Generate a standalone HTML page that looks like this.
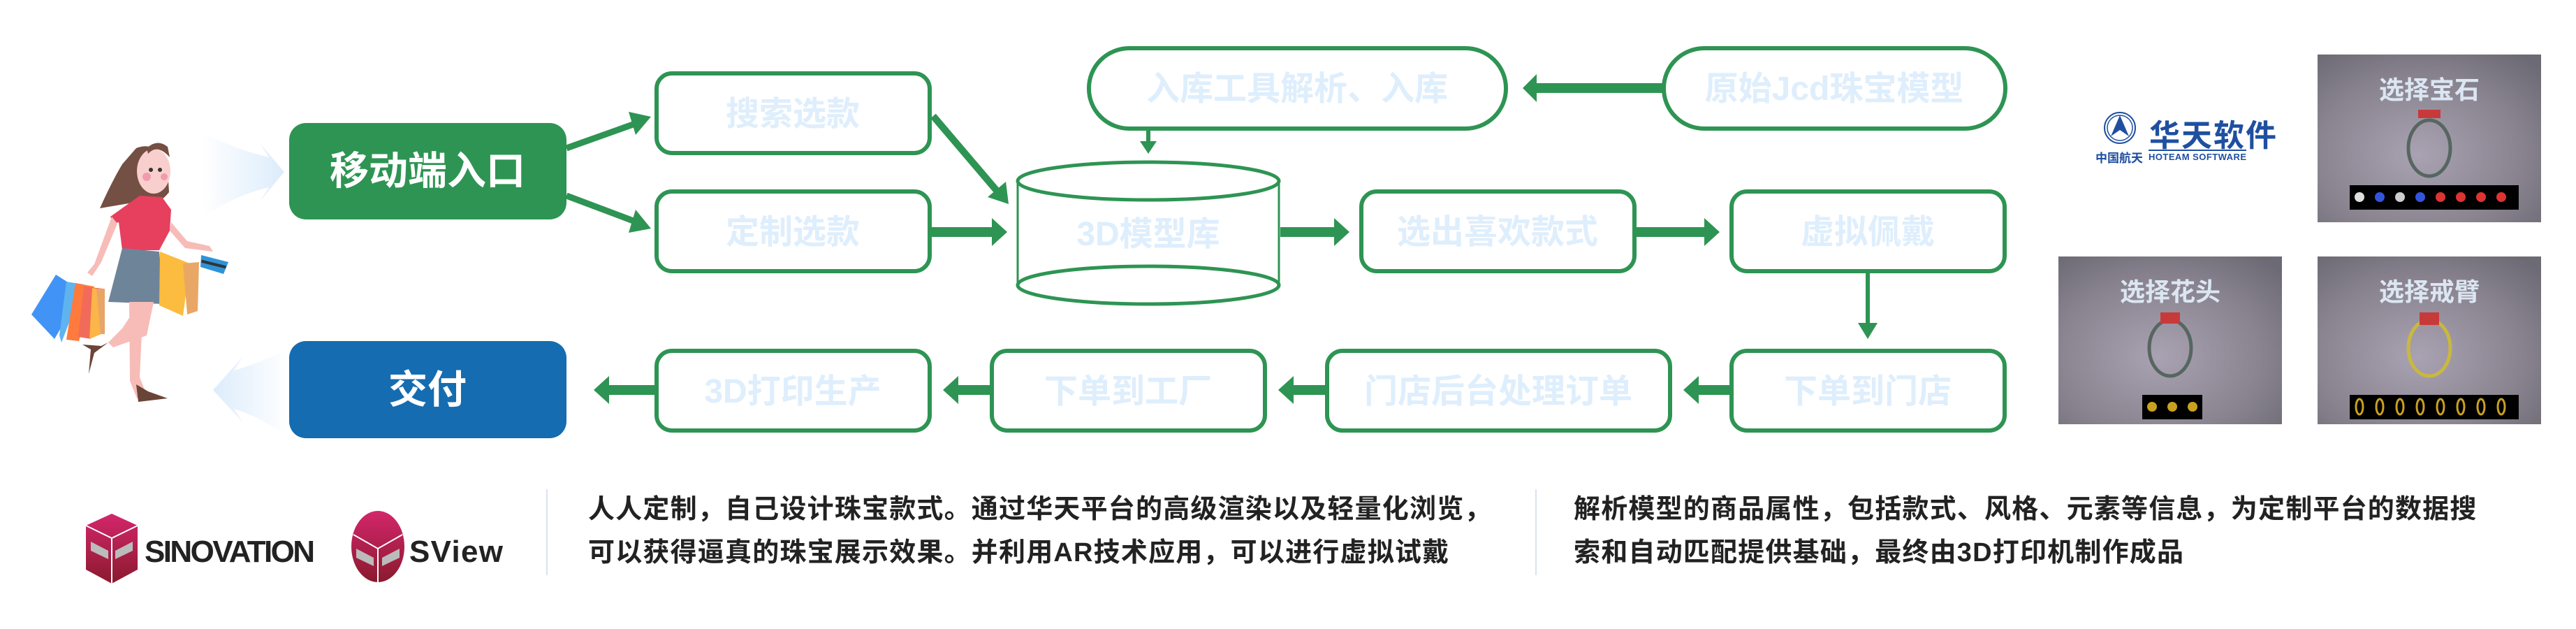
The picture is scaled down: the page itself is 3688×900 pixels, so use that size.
<!DOCTYPE html>
<html><head><meta charset="utf-8"><style>
html,body{margin:0;padding:0;background:#fff;}
body{width:3688px;height:900px;overflow:hidden;position:relative;font-family:"Liberation Sans","Noto Sans CJK SC",sans-serif;}
.t{font-family:"Liberation Sans","Noto Sans CJK SC",sans-serif;font-weight:bold;}
.desc{position:absolute;font-family:"Liberation Sans","Noto Sans CJK SC",sans-serif;font-size:38px;font-weight:bold;color:#222;line-height:62px;white-space:nowrap;letter-spacing:1.2px;}
</style></head><body>
<svg width="3688" height="900" viewBox="0 0 3688 900" xmlns="http://www.w3.org/2000/svg" style="position:absolute;left:0;top:0">
<defs>
<linearGradient id="gl" x1="0" x2="1" y1="0" y2="0"><stop offset="0" stop-color="#fff"/><stop offset="1" stop-color="#dcecfb"/></linearGradient>
<linearGradient id="gl2" x1="1" x2="0" y1="0" y2="0"><stop offset="0" stop-color="#fff"/><stop offset="1" stop-color="#dcecfb"/></linearGradient>
<radialGradient id="scr" cx="0.45" cy="0.6" r="0.75"><stop offset="0" stop-color="#a9a2b2"/><stop offset="0.6" stop-color="#8a8490"/><stop offset="1" stop-color="#6c6a74"/></radialGradient>
<linearGradient id="sino" x1="0" x2="0" y1="0" y2="1"><stop offset="0" stop-color="#d4266b"/><stop offset="1" stop-color="#8a1a2e"/></linearGradient>
</defs>

<path d="M290 190 Q340 215 385 225 L372 205 L407 246 L372 288 L385 268 Q340 278 290 310 Z" fill="url(#gl)"/>
<path d="M412 500 Q370 520 335 530 L348 510 L305 558 L348 605 L335 585 Q370 595 412 625 Z" fill="url(#gl2)"/>

<g>
<path d="M195 212 Q225 200 240 240 L242 275 Q230 290 228 282 L190 290 L143 298 Q160 260 175 235 Z" fill="#744f43"/>
<ellipse cx="220" cy="245" rx="24" ry="32" fill="#f8cfcc"/>
<circle cx="210" cy="253" r="6" fill="#f29bad"/><circle cx="235" cy="253" r="5" fill="#f29bad"/>
<circle cx="216" cy="243" r="3" fill="#333"/><circle cx="229" cy="243" r="3" fill="#333"/>
<path d="M212 220 Q225 205 243 225 L240 210 Q225 198 210 212 Z" fill="#744f43"/>
<path d="M200 280 L232 282 L245 300 L243 330 L228 358 L175 358 L170 318 L162 320 L158 310 Z" fill="#e73f5e"/>
<path d="M175 355 L228 360 L235 435 L155 432 Z" fill="#6e8599"/>
<path d="M185 432 L205 432 L200 540 L210 565 L196 570 L186 545 Z" fill="#f7bcb8"/>
<path d="M200 432 L220 432 L210 480 L162 497 L155 490 L175 470 Z" fill="#f7bcb8"/>
<path d="M155 490 L145 495 L118 493 L130 500 L127 535 L135 505 Z" fill="#6b4438"/>
<path d="M195 550 L198 575 L240 570 L212 560 Z" fill="#6b4438"/>
<path d="M160 310 L135 378 L125 390 L132 395 L145 375 L168 320 Z" fill="#f7bcb8"/>
<path d="M243 330 L265 355 L305 360 L300 352 L268 345 L245 318 Z" fill="#f7bcb8"/>
<path d="M80 393 L45 450 L78 485 L118 417 Z" fill="#4194f5"/>
<path d="M95 403 L120 407 L88 490 L85 480 Z" fill="#5fb4ef"/>
<path d="M108 405 L135 410 L113 488 L95 486 Z" fill="#ff7a3d"/>
<path d="M120 410 L148 413 L130 485 L112 482 Z" fill="#f26a5a"/>
<path d="M132 412 L150 415 L145 478 L128 485 Z" fill="#fbb548"/>
<path d="M138 413 L150 413 L150 478 L144 478 Z" fill="#e8a567"/>
<path d="M229 360 L272 377 L262 452 L228 437 Z" fill="#fcbc3f"/>
<path d="M262 377 L285 375 L283 445 L268 450 Z" fill="#e9a765"/>
<path d="M288 365 L327 375 L320 392 L287 382 Z" fill="#2f93d8"/>
<rect x="288" y="376" width="36" height="4" fill="#333" transform="rotate(14 306 378)"/>
</g>

<rect x="414" y="176" width="397" height="138" rx="24" fill="#2e9453"/>
<text x="612" y="264" class="t" font-size="56" fill="#fff" text-anchor="middle">移动端入口</text>
<rect x="414" y="488" width="397" height="139" rx="24" fill="#156cb0"/>
<text x="612" y="577" class="t" font-size="56" fill="#fff" text-anchor="middle">交付</text>

<g fill="#fff" stroke="#2e9453" stroke-width="6">
<rect x="940" y="105" width="391" height="114" rx="22"/>
<rect x="940" y="274" width="391" height="114" rx="22"/>
<rect x="1949" y="274" width="391" height="114" rx="22"/>
<rect x="2479" y="274" width="391" height="114" rx="22"/>
<rect x="940" y="502" width="391" height="114" rx="22"/>
<rect x="1420" y="502" width="391" height="114" rx="22"/>
<rect x="1900" y="502" width="491" height="114" rx="22"/>
<rect x="2479" y="502" width="391" height="114" rx="22"/>
<rect x="1559" y="69" width="597" height="115" rx="58" ry="57"/>
<rect x="2382" y="69" width="489" height="115" rx="58" ry="57"/>
</g>
<g fill="none" stroke="#2e9453">
<line x1="1457" y1="259" x2="1457" y2="408" stroke-width="3"/>
<line x1="1831" y1="259" x2="1831" y2="408" stroke-width="3"/>
<ellipse cx="1644" cy="259" rx="187" ry="27" stroke-width="5"/>
<path d="M1457 408 A187 27 0 0 0 1831 408 A187 27 0 0 0 1457 408" stroke-width="5"/>
</g>

<g class="t" font-size="48" fill="#deeefc" text-anchor="middle">
<text x="1135" y="179">搜索选款</text>
<text x="1135" y="348">定制选款</text>
<text x="1644" y="351">3D模型库</text>
<text x="2144" y="348">选出喜欢款式</text>
<text x="2674" y="348">虚拟佩戴</text>
<text x="1135" y="576">3D打印生产</text>
<text x="1615" y="576">下单到工厂</text>
<text x="2145" y="576">门店后台处理订单</text>
<text x="2674" y="576">下单到门店</text>
<text x="1857" y="143">入库工具解析、入库</text>
<text x="2626" y="143">原始Jcd珠宝模型</text>
</g>

<g fill="#2e9453" stroke="#2e9453">
<line x1="811" y1="212" x2="912" y2="176" stroke-width="9"/>
<polygon points="932,167 900,160 910,193" stroke="none"/>
<line x1="811" y1="280" x2="912" y2="318" stroke-width="9"/>
<polygon points="932,327 910,300 900,333" stroke="none"/>
<line x1="1336" y1="166" x2="1428" y2="274" stroke-width="10"/>
<polygon points="1444,292 1440,260 1414,282" stroke="none"/>
<line x1="1334" y1="332" x2="1422" y2="332" stroke-width="14"/>
<polygon points="1442,332 1420,312 1420,352" stroke="none"/>
<line x1="1833" y1="332" x2="1910" y2="332" stroke-width="14"/>
<polygon points="1932,332 1910,312 1910,352" stroke="none"/>
<line x1="2343" y1="332" x2="2440" y2="332" stroke-width="14"/>
<polygon points="2462,332 2440,312 2440,352" stroke="none"/>
<line x1="2674" y1="390" x2="2674" y2="465" stroke-width="6"/>
<polygon points="2674,485 2660,462 2688,462" stroke="none"/>
<line x1="1644" y1="185" x2="1644" y2="205" stroke-width="6"/>
<polygon points="1644,220 1632,202 1656,202" stroke="none"/>
<line x1="2380" y1="126" x2="2200" y2="126" stroke-width="14"/>
<polygon points="2180,126 2200,106 2200,146" stroke="none"/>
<line x1="2479" y1="558" x2="2430" y2="558" stroke-width="14"/>
<polygon points="2410,558 2432,538 2432,578" stroke="none"/>
<line x1="1900" y1="558" x2="1850" y2="558" stroke-width="14"/>
<polygon points="1830,558 1852,538 1852,578" stroke="none"/>
<line x1="1420" y1="558" x2="1370" y2="558" stroke-width="14"/>
<polygon points="1350,558 1372,538 1372,578" stroke="none"/>
<line x1="940" y1="558" x2="870" y2="558" stroke-width="14"/>
<polygon points="850,558 872,538 872,578" stroke="none"/>
</g>

<g>
<circle cx="3035" cy="183" r="22" fill="none" stroke="#1f4fa0" stroke-width="2"/>
<circle cx="3035" cy="183" r="18" fill="none" stroke="#1f4fa0" stroke-width="1.5"/>
<path d="M3035 165 L3048 195 L3035 186 L3022 195 Z" fill="#1f4fa0"/>
<text x="3077" y="209" class="t" font-size="44" fill="#1f4fa0" letter-spacing="2">华天软件</text>
<line x1="3076" y1="215" x2="3216" y2="215" stroke="#1f4fa0" stroke-width="2"/>
<text x="3000" y="232" class="t" font-size="17" fill="#1f4fa0">中国航天</text>
<text x="3076" y="229" class="t" font-size="13" fill="#1f4fa0" textLength="140">HOTEAM SOFTWARE</text>
</g>

<g>
<rect x="3318" y="78" width="320" height="240" fill="url(#scr)"/>
<text x="3478" y="141" class="t" font-size="36" fill="#dbe6f2" text-anchor="middle">选择宝石</text>
<ellipse cx="3478" cy="212" rx="30" ry="40" fill="none" stroke="#566660" stroke-width="5"/>
<rect x="3462" y="157" width="32" height="12" fill="#c83a3a"/>
<rect x="3364" y="265" width="242" height="35" fill="#000"/>
<g fill="#d33"><circle cx="3378" cy="282" r="7" fill="#ddd"/><circle cx="3407" cy="282" r="7" fill="#35d"/><circle cx="3436" cy="282" r="7" fill="#ccc"/><circle cx="3465" cy="282" r="7" fill="#35d"/><circle cx="3494" cy="282" r="7"/><circle cx="3523" cy="282" r="7"/><circle cx="3552" cy="282" r="7"/><circle cx="3581" cy="282" r="7"/></g>

<rect x="2947" y="367" width="320" height="240" fill="url(#scr)"/>
<text x="3107" y="430" class="t" font-size="36" fill="#dbe6f2" text-anchor="middle">选择花头</text>
<ellipse cx="3107" cy="498" rx="30" ry="40" fill="none" stroke="#566660" stroke-width="5"/>
<rect x="3093" y="447" width="28" height="16" fill="#c83a3a"/>
<rect x="3067" y="565" width="86" height="35" fill="#000"/>
<g fill="#c9a020"><circle cx="3081" cy="582" r="7"/><circle cx="3110" cy="582" r="7"/><circle cx="3139" cy="582" r="7"/></g>

<rect x="3318" y="367" width="320" height="240" fill="url(#scr)"/>
<text x="3478" y="430" class="t" font-size="36" fill="#dbe6f2" text-anchor="middle">选择戒臂</text>
<ellipse cx="3478" cy="498" rx="30" ry="40" fill="none" stroke="#c9b840" stroke-width="5"/>
<rect x="3464" y="447" width="28" height="18" fill="#c83a3a"/>
<rect x="3364" y="565" width="242" height="35" fill="#000"/>
<g fill="none" stroke="#c9a020" stroke-width="3"><ellipse cx="3378" cy="582" rx="5" ry="11"/><ellipse cx="3407" cy="582" rx="5" ry="11"/><ellipse cx="3436" cy="582" rx="5" ry="11"/><ellipse cx="3465" cy="582" rx="5" ry="11"/><ellipse cx="3494" cy="582" rx="5" ry="11"/><ellipse cx="3523" cy="582" rx="5" ry="11"/><ellipse cx="3552" cy="582" rx="5" ry="11"/><ellipse cx="3581" cy="582" rx="5" ry="11"/></g>
</g>

<path d="M160 735 L197 752 L197 815 L160 835 L123 815 L123 752 Z" fill="url(#sino)"/>
<path d="M123 752 L160 770 L197 752 M160 770 L160 835" stroke="#fff" stroke-width="2" fill="none"/>
<path d="M130 775 L155 788 L155 800 L130 788 Z M165 788 L190 775 L190 788 L165 800 Z" fill="#bbb"/>
<text x="207" y="804" font-family="Liberation Sans, sans-serif" font-weight="bold" font-size="44" fill="#222" textLength="244">SINOVATION</text>
<ellipse cx="541" cy="782" rx="38" ry="51" fill="url(#sino)"/>
<path d="M506 765 L541 785 L576 765 M541 785 L541 833" stroke="#fff" stroke-width="2" fill="none"/>
<path d="M510 785 L535 798 L535 810 L510 798 Z M547 798 L572 785 L572 798 L547 810 Z" fill="#bbb"/>
<text x="586" y="804" font-family="Liberation Sans, sans-serif" font-weight="bold" font-size="44" fill="#222" textLength="134">SView</text>

<line x1="783" y1="700" x2="783" y2="823" stroke="#d6e4ef" stroke-width="2"/>
<line x1="2199" y1="700" x2="2199" y2="823" stroke="#d6e4ef" stroke-width="2"/>
</svg>
<div class="desc" style="left:842px;top:698px;">人人定制，自己设计珠宝款式。通过华天平台的高级渲染以及轻量化浏览，<br>可以获得逼真的珠宝展示效果。并利用AR技术应用，可以进行虚拟试戴</div>
<div class="desc" style="left:2253px;top:698px;">解析模型的商品属性，包括款式、风格、元素等信息，为定制平台的数据搜<br>索和自动匹配提供基础，最终由3D打印机制作成品</div>
</body></html>
